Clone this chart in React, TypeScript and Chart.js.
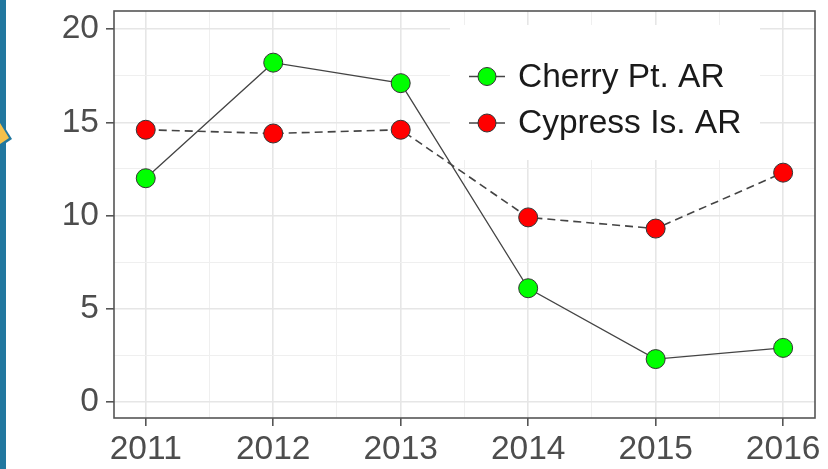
import React, { useEffect, useRef } from "react";
import { Chart, registerables } from "chart.js";

Chart.register(...registerables);

const years = [2011, 2012, 2013, 2014, 2015, 2016];
const cherryPt = [12.0, 18.2, 17.1, 6.1, 2.3, 2.9];
const cypressIs = [14.6, 14.4, 14.6, 9.9, 9.3, 12.3];
const seriesLabels = ["Cherry Pt. AR", "Cypress Is. AR"];
const yTickLabels = [0, 5, 10, 15, 20];

const FONT = "'Liberation Sans', Arial, Helvetica, sans-serif";
const FONT_SIZE = 33.5;

const panelPlugin = {
  id: "panelPlugin",
  afterDatasetsDraw(chart: any) {
    const ctx = chart.ctx;
    // legend
    const lx = 450, ly = 25, lw = 310, lh = 135;
    ctx.save();
    ctx.fillStyle = "#ffffff";
    ctx.fillRect(lx, ly, lw, lh);
    const rows = [76.5, 123];
    chart.data.datasets.forEach((ds: any, i: number) => {
      const y = rows[i];
      ctx.strokeStyle = ds.borderColor;
      ctx.lineWidth = 1.3;
      ctx.setLineDash([]);
      ctx.beginPath();
      ctx.moveTo(469, y);
      ctx.lineTo(505, y);
      ctx.stroke();
      ctx.beginPath();
      ctx.arc(487, y, 9, 0, Math.PI * 2);
      ctx.fillStyle = ds.pointBackgroundColor;
      ctx.fill();
      ctx.lineWidth = 1;
      ctx.strokeStyle = "#333333";
      ctx.stroke();
      ctx.fillStyle = "#1a1a1a";
      ctx.font = `${FONT_SIZE}px ${FONT}`;
      ctx.textBaseline = "middle";
      ctx.textAlign = "left";
      ctx.fillText(ds.label, 518, y + 1);
    });
    ctx.restore();
  },
  afterDraw(chart: any) {
    const ctx = chart.ctx;
    const ca = chart.chartArea;
    ctx.save();
    ctx.strokeStyle = "#555555";
    ctx.lineWidth = 1.6;
    ctx.setLineDash([]);
    ctx.strokeRect(ca.left, ca.top, ca.right - ca.left, ca.bottom - ca.top);
    ctx.restore();
  },
};

export default function App() {
  const ref = useRef<HTMLCanvasElement | null>(null);
  useEffect(() => {
    if (!ref.current) return;
    const isMajorX = (v: number) => v !== undefined && Math.abs(v - Math.round(v)) < 1e-6;
    const isMajorY = (v: number) => yTickLabels.some((t) => Math.abs(t - v) < 1e-6);
    const chart = new Chart(ref.current, {
      type: "line",
      data: {
        datasets: [
          {
            label: seriesLabels[0],
            data: years.map((x, i) => ({ x, y: cherryPt[i] })),
            borderColor: "#444444",
            borderWidth: 1.3,
            pointBackgroundColor: "#00ff00",
            pointBorderColor: "#333333",
            pointBorderWidth: 1,
            pointRadius: 9.5,
            tension: 0,
          },
          {
            label: seriesLabels[1],
            data: years.map((x, i) => ({ x, y: cypressIs[i] })),
            borderColor: "#444444",
            borderWidth: 1.6,
            borderDash: [8, 5],
            pointBackgroundColor: "#ff0000",
            pointBorderColor: "#333333",
            pointBorderWidth: 1,
            pointRadius: 9.5,
            tension: 0,
          },
        ],
      },
      options: {
        responsive: false,
        animation: false,
        events: [],
        layout: { padding: { top: 11, right: 13, left: 0, bottom: 0 } },
        plugins: { legend: { display: false }, tooltip: { enabled: false } },
        scales: {
          x: {
            type: "linear",
            min: 2010.751,
            max: 2016.25,
            afterFit: (s: any) => {
              s.height = 51;
              s.paddingLeft = 0;
              s.paddingRight = 0;
            },
            ticks: {
              stepSize: 0.5,
              includeBounds: false,
              autoSkip: false,
              maxRotation: 0,
              minRotation: 0,
              padding: 4,
              color: "#4d4d4d",
              font: { family: FONT, size: FONT_SIZE },
              callback: (v: any) => (isMajorX(Number(v)) ? String(Math.round(Number(v))) : ""),
            },
            grid: {
              color: (c: any) => (isMajorX(c.tick?.value) ? "#e6e6e6" : "#efefef"),
              lineWidth: (c: any) => (isMajorX(c.tick?.value) ? 1.6 : 1),
              tickColor: (c: any) => (isMajorX(c.tick?.value) ? "#555555" : "rgba(0,0,0,0)"),
              tickLength: 8,
              tickWidth: 1.6,
            },
            border: { display: false },
          },
          y: {
            type: "linear",
            min: -0.86,
            max: 20.97,
            afterFit: (s: any) => {
              s.width = 114;
              s.paddingTop = 0;
              s.paddingBottom = 0;
            },
            ticks: {
              stepSize: 2.5,
              includeBounds: false,
              autoSkip: false,
              padding: 7,
              color: "#4d4d4d",
              font: { family: FONT, size: FONT_SIZE },
              callback: (v: any) => (isMajorY(Number(v)) ? String(Math.round(Number(v))) : ""),
            },
            grid: {
              color: (c: any) => (isMajorY(c.tick?.value) ? "#e6e6e6" : "#efefef"),
              lineWidth: (c: any) => (isMajorY(c.tick?.value) ? 1.6 : 1),
              tickColor: (c: any) => (isMajorY(c.tick?.value) ? "#555555" : "rgba(0,0,0,0)"),
              tickLength: 8,
              tickWidth: 1.6,
            },
            border: { display: false },
          },
        },
      },
      plugins: [panelPlugin],
    } as any);
    return () => chart.destroy();
  }, []);

  return (
    <div style={{ position: "absolute", left: 0, top: 0, width: 828, height: 469, background: "#ffffff", overflow: "hidden" }}>
      <canvas ref={ref} width={828} height={469} style={{ position: "absolute", left: 0, top: 0 }} />
      <div style={{ position: "absolute", left: 0, top: 0, width: 6, height: 469, background: "#21779f" }} />
      <div
        style={{
          position: "absolute",
          left: 0,
          top: 120,
          width: 12,
          height: 27,
          background: "#21779f",
          clipPath: "polygon(0 0, 100% 70%, 0 100%)",
        }}
      />
      <div
        style={{
          position: "absolute",
          left: 0,
          top: 123,
          width: 9,
          height: 21,
          background: "#f5c04a",
          clipPath: "polygon(0 0, 100% 72%, 0 100%)",
        }}
      />
    </div>
  );
}
